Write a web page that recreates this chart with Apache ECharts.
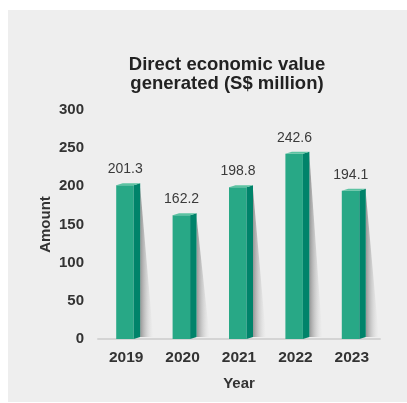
<!DOCTYPE html>
<html>
<head>
<meta charset="utf-8">
<script src="https://cdn.jsdelivr.net/npm/echarts@6/dist/echarts.min.js"></script>
<style>
html,body{margin:0;padding:0;background:#ffffff;}
#chart{width:407px;height:403px;}
</style>
</head>
<body>
<div id="chart"></div>
<script>
const years = ['2019', '2020', '2021', '2022', '2023'];
const amounts = [201.3, 162.2, 198.8, 242.6, 194.1];
const yTicks = [0, 50, 100, 150, 200, 250, 300];

const FONT = "'Liberation Sans', Arial, Helvetica, sans-serif";
const chart = echarts.init(document.getElementById('chart'), null, {renderer: 'canvas'});

function renderBar(params, api) {
  const idx = api.value(0);
  const val = api.value(1);
  const top = api.coord([idx, val]);
  const base = api.coord([idx, 0]);
  const cx = top[0];
  const fl = cx - 10, fr = cx + 7.5, d = 6.5, rise = 2;
  const ty = top[1], by = base[1];
  return {
    type: 'group',
    children: [
      { // shadow
        type: 'polygon',
        shape: {points: [[fr + d, ty + 2], [fr + d, by - 2], [fr + d + 13, by - 2]]},
        style: {fill: new echarts.graphic.LinearGradient(0, 0, 1, 0, [
          {offset: 0, color: 'rgba(140,140,140,0.9)'},
          {offset: 1, color: 'rgba(237,237,237,0.2)'}
        ])}
      },
      { // front
        type: 'rect',
        shape: {x: fl, y: ty, width: fr - fl, height: by - ty},
        style: {fill: '#28a886'}
      },
      { // side
        type: 'polygon',
        shape: {points: [[fr, ty], [fr + d, ty - rise], [fr + d, by - rise], [fr, by]]},
        style: {fill: '#00836a'}
      },
      { // top
        type: 'polygon',
        shape: {points: [[fl, ty], [fl + d, ty - rise], [fr + d, ty - rise], [fr, ty]]},
        style: {fill: '#5cc3a2'}
      },
      {
        type: 'text',
        style: {
          text: val.toFixed(1),
          x: cx - 1, y: ty - 16,
          align: 'center', verticalAlign: 'middle',
          font: '14px ' + FONT,
          fill: '#3a3a3a'
        }
      }
    ]
  };
}

const option = {
  backgroundColor: '#ffffff',
  animation: false,
  graphic: [{
    type: 'rect', z: -10, silent: true,
    shape: {x: 8, y: 10, width: 399, height: 392},
    style: {fill: '#eeeeee'}
  }],
  title: {
    text: 'Direct economic value\ngenerated (S$ million)',
    left: 222, top: 50, textAlign: 'center',
    textStyle: {fontFamily: FONT, fontWeight: 'bold', fontSize: 18.5, color: '#222222', lineHeight: 19}
  },
  grid: {left: 98, right: 27, top: 110, bottom: 64, containLabel: false},
  xAxis: {
    type: 'category',
    data: years,
    name: 'Year',
    nameLocation: 'middle',
    nameGap: 37,
    nameMoveOverlap: false,
    nameTextStyle: {fontFamily: FONT, fontWeight: 'bold', fontSize: 15, color: '#333333'},
    axisLine: {show: true, lineStyle: {color: '#d4d4d4', width: 2}},
    axisTick: {show: false},
    axisLabel: {fontFamily: FONT, fontWeight: 'bold', fontSize: 15.5, color: '#333333', margin: 11}
  },
  yAxis: {
    type: 'value',
    min: yTicks[0], max: yTicks[yTicks.length - 1], interval: 50,
    name: 'Amount',
    nameLocation: 'middle',
    nameGap: 45,
    nameMoveOverlap: false,
    nameRotate: 90,
    nameTextStyle: {fontFamily: FONT, fontWeight: 'bold', fontSize: 15, color: '#333333'},
    axisLine: {show: false},
    axisTick: {show: false},
    splitLine: {show: false},
    axisLabel: {fontFamily: FONT, fontWeight: 'bold', fontSize: 15, color: '#333333', margin: 14}
  },
  series: [{
    type: 'custom',
    renderItem: renderBar,
    data: years.map((y, i) => [i, amounts[i]]),
    encode: {x: 0, y: 1}
  }]
};
chart.setOption(option);
</script>
</body>
</html>
